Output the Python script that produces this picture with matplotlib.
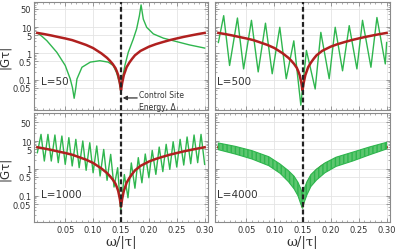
import numpy as np
import matplotlib
matplotlib.use("Agg")
import matplotlib.pyplot as plt
from matplotlib.ticker import LogLocator, MultipleLocator, NullFormatter

# values: x = omega/|tau|, y = |G tau|
x_red = [0.0, 0.0125, 0.025, 0.0375, 0.05, 0.0625, 0.075, 0.0875, 0.1, 0.115, 0.125, 0.13,
         0.135, 0.14, 0.1425, 0.145, 0.148, 0.15, 0.152, 0.155, 0.1575, 0.16, 0.165, 0.17,
         0.175, 0.185, 0.1925, 0.2, 0.2125, 0.225, 0.2375, 0.25, 0.2625, 0.275, 0.2875, 0.3]
y_red = [6.0, 5.4, 4.8, 4.2, 3.7, 3.2, 2.6, 2.1, 1.6, 1.0, 0.68, 0.53,
         0.40, 0.28, 0.21, 0.15, 0.075, 0.04, 0.075, 0.15, 0.21, 0.30, 0.45, 0.63,
         0.85, 1.25, 1.5, 1.8, 2.25, 2.7, 3.2, 3.7, 4.25, 4.8, 5.4, 6.0]

x_L50 = [0.0, 0.008, 0.017, 0.035, 0.05, 0.059, 0.063, 0.066, 0.069, 0.071, 0.08, 0.095,
         0.112, 0.127, 0.136, 0.142, 0.147, 0.149, 0.153, 0.157, 0.163, 0.172, 0.178, 0.183,
         0.186, 0.19, 0.196, 0.208, 0.226, 0.25, 0.273, 0.3]
y_L50 = [6.0, 4.5, 3.05, 1.1, 0.35, 0.108, 0.05, 0.02, 0.05, 0.108, 0.3, 0.47,
         0.53, 0.47, 0.35, 0.19, 0.081, 0.045, 0.125, 0.35, 1.1, 3.5, 8.5, 27,
         69, 20, 9.8, 5.5, 3.8, 2.8, 2.1, 1.6]

x_L500 = [0.0, 0.0095, 0.020, 0.034, 0.045, 0.059, 0.071, 0.084, 0.096, 0.1095, 0.121, 0.1345,
          0.147, 0.157, 0.1726, 0.1827, 0.1976, 0.2083, 0.2214, 0.2333, 0.247, 0.257, 0.272,
          0.2827, 0.2976, 0.300]
y_L500 = [2.6, 27, 0.35, 22, 0.26, 18, 0.20, 14, 0.17, 9.8, 0.11, 3.0,
          0.011, 1.3, 0.045, 6.3, 0.11, 9.8, 0.22, 11.3, 0.26, 18, 0.30,
          23, 0.40, 2.6]

x_L1000 = [0.0, 0.0066, 0.0125, 0.019, 0.025, 0.0315, 0.0375, 0.044, 0.05, 0.0565, 0.0625,
           0.069, 0.075, 0.0815, 0.0875, 0.094, 0.1, 0.1065, 0.1125, 0.119, 0.125, 0.1315,
           0.1375, 0.144, 0.1495, 0.156, 0.1625, 0.1685, 0.175, 0.181, 0.1875, 0.1935, 0.2,
           0.206, 0.2125, 0.2185, 0.225, 0.231, 0.2375, 0.2435, 0.25, 0.256, 0.2625, 0.2685,
           0.275, 0.281, 0.2875, 0.2935, 0.3]
y_L1000 = [3.8, 17.8, 1.88, 17.8, 1.88, 16.9, 1.64, 15.5, 1.42, 13.5, 1.24,
           11.7, 1.07, 10.2, 0.86, 8.8, 0.70, 6.7, 0.53, 5.0, 0.37, 3.3,
           0.21, 1.07, 0.028, 0.6, 0.085, 1.6, 0.19, 2.5, 0.30, 3.4, 0.46,
           4.6, 0.61, 6.1, 0.77, 7.7, 0.93, 9.6, 1.13, 11.7, 1.34, 14.3,
           1.5, 16.9, 1.64, 17.8, 1.42]

# L=4000 oscillates too fast to resolve: upper / lower edge of the band
x_L4000 = [0.0, 0.03, 0.06, 0.09, 0.11, 0.125, 0.135, 0.142, 0.147, 0.15, 0.153, 0.158,
           0.165, 0.175, 0.19, 0.21, 0.24, 0.27, 0.3]
y_L4000_hi = [8.6, 6.5, 4.5, 2.7, 1.46, 0.83, 0.52, 0.31, 0.18, 0.116, 0.18, 0.33,
              0.6, 0.95, 1.6, 2.6, 4.0, 6.2, 9.1]
y_L4000_lo = [4.9, 3.4, 2.23, 1.27, 0.67, 0.33, 0.18, 0.10, 0.05, 0.035, 0.058, 0.11,
              0.22, 0.38, 0.7, 1.2, 1.9, 3.2, 5.2]

x_ticks = [0.05, 0.10, 0.15, 0.20, 0.25, 0.30]
x_tick_labels = ["0.05", "0.10", "0.15", "0.20", "0.25", "0.30"]
y_ticks = [0.05, 0.1, 0.5, 1, 5, 10, 50]
y_tick_labels = ["0.05", "0.1", "0.5", "1", "5", "10", "50"]
site_energy = 0.15

RED = "#b0201f"
GREEN = "#2fb64e"

fig = plt.figure(figsize=(3.99, 2.53), dpi=100)

w_l, w_r = 174 / 399, 175 / 399
h_t, h_b = 108 / 253, 109 / 253
ax1 = fig.add_axes([34 / 399, 1 - 111 / 253, w_l, h_t])
ax2 = fig.add_axes([215 / 399, 1 - 111 / 253, w_r, h_t])
ax3 = fig.add_axes([34 / 399, 1 - 223 / 253, w_l, h_b])
ax4 = fig.add_axes([215 / 399, 1 - 223 / 253, w_r, h_b])


def style_axes(ax, left, bottom, label):
    ax.set_yscale("log")
    ax.set_xlim(-0.006, 0.306)
    if bottom:
        ax.set_ylim(0.011, 108)
    else:
        ax.set_ylim(0.0072, 89)
    ax.set_xticks(x_ticks)
    ax.set_yticks(y_ticks)
    ax.xaxis.set_minor_locator(MultipleLocator(0.01))
    ax.yaxis.set_minor_locator(LogLocator(base=10, subs=np.arange(2, 10)))
    ax.yaxis.set_minor_formatter(NullFormatter())
    ax.grid(True, which="major", color="#e4e4e4", lw=0.6)
    ax.set_axisbelow(True)
    ax.tick_params(which="both", direction="in", top=True, right=True,
                   color="#8a8a8a", labelsize=6, labelcolor="#333333", pad=2)
    ax.tick_params(which="major", length=3, width=0.6)
    ax.tick_params(which="minor", length=1.5, width=0.5)
    for s in ax.spines.values():
        s.set_color("#8a8a8a")
        s.set_linewidth(0.8)
    if left:
        ax.set_yticklabels(y_tick_labels)
        ax.set_ylabel("|G\u03c4|", fontsize=8.5, color="#333333", labelpad=1)
    else:
        ax.tick_params(labelleft=False)
    if bottom:
        ax.set_xticklabels(x_tick_labels)
        ax.set_xlabel("\u03c9/|\u03c4|", fontsize=9.5, color="#333333", labelpad=1,
                      family="DejaVu Serif")
    else:
        ax.tick_params(labelbottom=False)
    lx = 0.04 if left else 0.011
    ly = 0.27 if not bottom else 0.257
    ax.text(lx, ly, label, transform=ax.transAxes, fontsize=7.5, color="#333333",
            va="center", ha="left",
            bbox=dict(facecolor="white", edgecolor="none", pad=0.5))
    ax.axvline(site_energy, color="#222222", lw=1.6, ls=(0, (2.2, 1.2)), zorder=10)


style_axes(ax1, True, False, "L=50")
style_axes(ax2, False, False, "L=500")
style_axes(ax3, True, True, "L=1000")
style_axes(ax4, False, True, "L=4000")

for ax, xg, yg in [(ax1, x_L50, y_L50), (ax2, x_L500, y_L500), (ax3, x_L1000, y_L1000)]:
    ax.plot(xg, yg, color=GREEN, lw=1.0, zorder=3)
    ax.plot(x_red, y_red, color=RED, lw=1.8, zorder=4)

ax4.plot(x_red, y_red, color=RED, lw=1.8, zorder=3)
ax4.fill_between(x_L4000, y_L4000_lo, y_L4000_hi, facecolor="#5cc66f", edgecolor=GREEN,
                 hatch="||||", lw=0.8, zorder=4)

# annotation for the control site energy
ax1.annotate("", xy=(0.153, 0.0206), xytext=(0.179, 0.0206),
             arrowprops=dict(arrowstyle="-|>", color="#333333", lw=0.9,
                             mutation_scale=6, shrinkA=0, shrinkB=0), zorder=11)
ax1.text(0.183, 0.0166, "Control Site\nEnergy, \u0394", fontsize=5.5, color="#333333",
         ha="left", va="center", linespacing=1.4, zorder=11)

fig.savefig("out.png", dpi=100)
